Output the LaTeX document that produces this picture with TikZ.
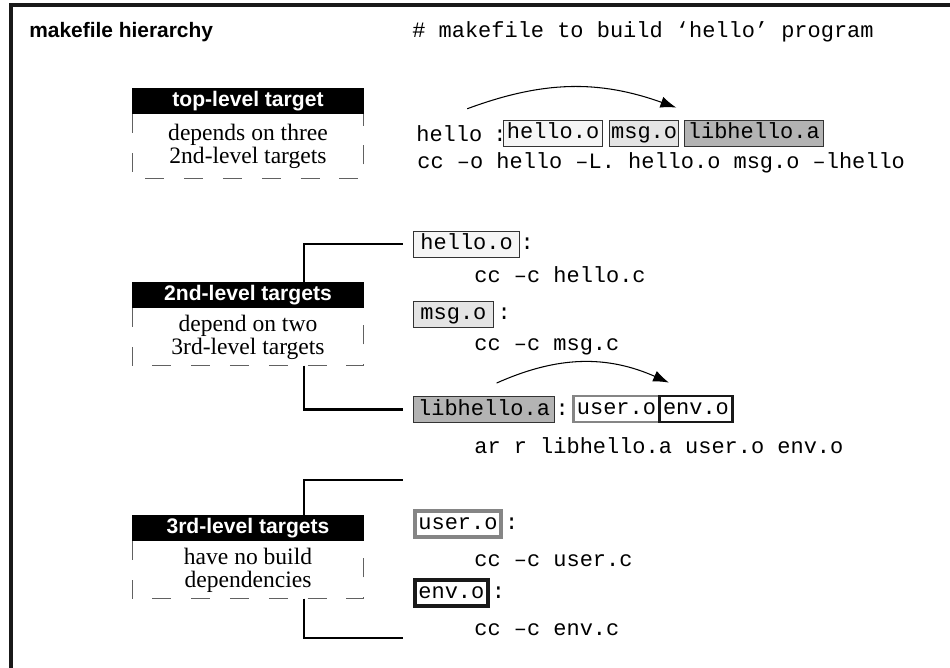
\documentclass[tikz,border=0pt]{standalone}
\usepackage{fontspec}
\setmainfont{Liberation Serif}
\setsansfont{Liberation Sans}
\setmonofont{Liberation Mono}
\usepackage{tikz}
\usetikzlibrary{arrows.meta}
\usetikzlibrary{positioning}

\definecolor{objA}{HTML}{F5F5F5}
\definecolor{objB}{HTML}{E4E4E4}
\definecolor{objC}{HTML}{B3B3B3}
\definecolor{userGray}{HTML}{858585}

\tikzset{
	heading/.style={font=\sffamily\bfseries\fontsize{11.9}{14}\selectfont, inner sep=0pt, anchor=west},
	lvlhead/.style={fill=black, text=white, font=\sffamily\bfseries\fontsize{12}{14}\selectfont,
		minimum width=131.5pt, minimum height=14.7pt, inner sep=0pt},
	lvldesc/.style={font=\fontsize{13.4}{13.2}\selectfont, align=center,
		minimum width=131.5pt, minimum height=32.3pt, inner sep=0pt},
	dashbox/.style={draw=black!62, line width=0.6pt, dash pattern=on 10.8pt off 11.3pt},
	code/.style={font=\ttfamily\fontsize{12.5}{14}\selectfont, inner sep=0pt, anchor=west,
		text height=9pt, text depth=2.6pt},
	objbox/.style={code, draw=black!80, line width=0.5pt, inner xsep=2pt, inner ysep=1.6pt},
	tree/.style={line width=1.2pt},
	dep/.style={-{Latex[length=9pt,width=6.5pt]}, line width=0.6pt}
}

\begin{document}
\begin{tikzpicture}[x=0.02cm, y=-0.02cm]
	\useasboundingbox (0,0) rectangle (950,668);
	\draw[line width=2.2pt, black!90] (950,5) -| (11,668);

	\node[heading] (title) at (29,32) {makefile hierarchy};
	\node[code] (comment) at (412,32) {\# makefile to build ‘hello’ program};

	% level boxes
	\node[lvlhead] (hdrTop) at (248,101) {top-level target};
	\node[lvldesc, minimum height=36.3pt, below=0pt of hdrTop] (descTop) {depends on three\\2nd-level targets};
	\draw[dashbox] (descTop.north west) |- (descTop.south east) -- (descTop.north east);

	\node[lvlhead] (hdrSecond) at (248,295) {2nd-level targets};
	\node[lvldesc, below=0pt of hdrSecond] (descSecond) {depend on two\\3rd-level targets};
	\draw[dashbox] (descSecond.north west) |- (descSecond.south east) -- (descSecond.north east);

	\node[lvlhead] (hdrThird) at (248,528) {3rd-level targets};
	\node[lvldesc, below=0pt of hdrThird] (descThird) {have no build\\dependencies};
	\draw[dashbox] (descThird.north west) |- (descThird.south east) -- (descThird.north east);

	% top-level rule
	\node[code] (srcHello) at (416,136) {hello};
	\node[code] (colHello) at (493,136) {:};
	\node[objbox, fill=objA] (depHello) at (503,133) {hello.o};
	\node[objbox, fill=objB, inner xsep=1pt] (depMsg) at (609,133) {msg.o};
	\node[objbox, fill=objC] (depLib) at (684,133) {libhello.a};
	\node[code] (linkCmd) at (417,163) {cc –o hello –L. hello.o msg.o –lhello};

	% 2nd-level rules
	\node[objbox, fill=objA, inner xsep=4pt] (tgtHello) at (413,244) {hello.o};
	\node[code, right=0pt of tgtHello] (colTgtHello) {:};
	\node[code] (ccHello) at (474,277) {cc –c hello.c};
	\node[objbox, fill=objB, inner xsep=4pt] (tgtMsg) at (413,314) {msg.o};
	\node[code, right=2pt of tgtMsg] (colTgtMsg) {:};
	\node[code] (ccMsg) at (474,345) {cc –c msg.c};
	\node[objbox, fill=objC, inner xsep=2.7pt] (tgtLib) at (413,409.5) {libhello.a};
	\node[code, right=0pt of tgtLib] (colTgtLib) {:};
	\node[objbox, draw=userGray, line width=1.6pt, fill=white] (libUser) at (572,409) {user.o};
	\node[objbox, draw=black!90, line width=1.6pt, right=-1.6pt of libUser] (libEnv) {env.o};
	\node[code] (arCmd) at (474,448) {ar r libhello.a user.o env.o};

	% 3rd-level rules
	\node[objbox, draw=userGray, line width=2.2pt, fill=white] (tgtUser) at (413,524) {user.o};
	\node[code, right=1pt of tgtUser] (colTgtUser) {:};
	\node[code] (ccUser) at (474,561) {cc –c user.c};
	\node[objbox, draw=black!90, line width=2.2pt] (tgtEnv) at (413,593) {env.o};
	\node[code, right=1pt of tgtEnv] (colTgtEnv) {:};
	\node[code] (ccEnv) at (474,630) {cc –c env.c};

	% brackets
	\coordinate (userTop) at (403,480);
	\coordinate (envBottom) at (403,638);
	\draw[tree] ([xshift=31.7pt]hdrSecond.north) |- ([xshift=-5.7pt]tgtHello.west);
	\draw[tree] ([xshift=31.7pt]descSecond.south) |- ([xshift=-5.7pt]tgtLib.west);
	\draw[tree] ([xshift=31.7pt]hdrThird.north) |- (userTop);
	\draw[tree] ([xshift=31.7pt]descThird.south) |- (envBottom);

	\draw[dep] ([xshift=10.2pt,yshift=9.5pt]srcHello.north) to[bend left=20] ([xshift=-1.7pt,yshift=6.8pt]depMsg.north east);
	\draw[dep] ([xshift=47.6pt,yshift=7.4pt]tgtLib.north west) to[bend left=24] ([xshift=6.2pt,yshift=6.8pt]libEnv.north west);
\end{tikzpicture}
\end{document}
